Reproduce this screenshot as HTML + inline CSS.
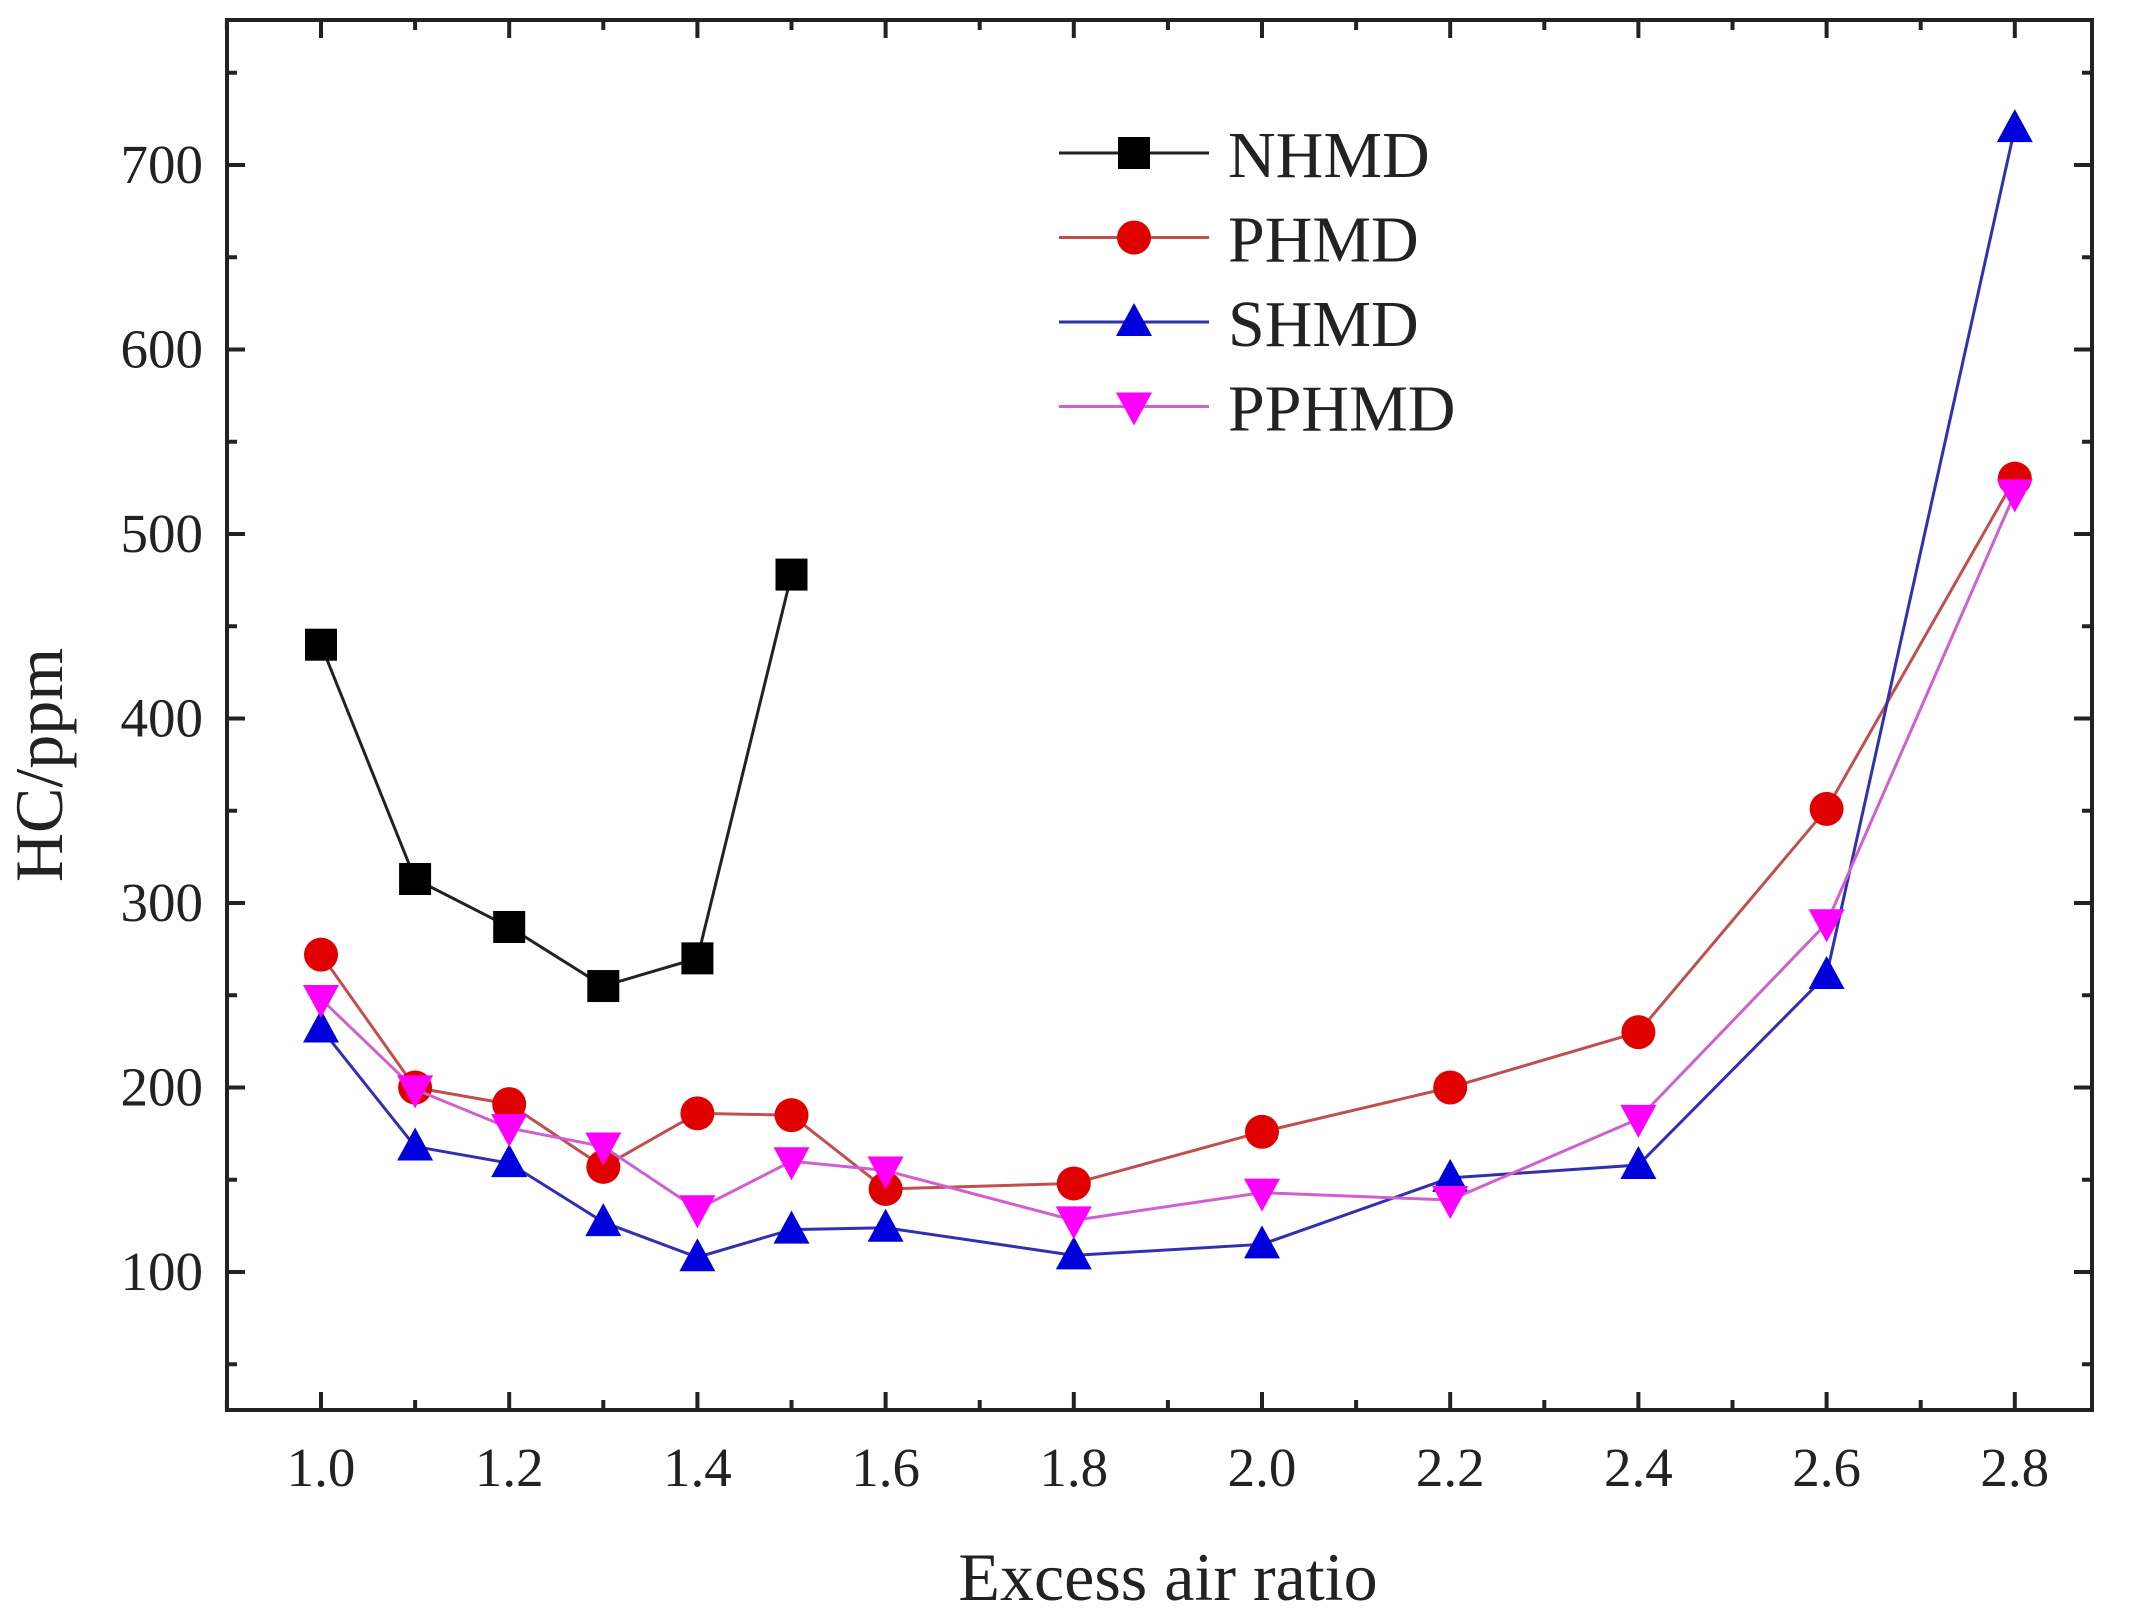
<!DOCTYPE html>
<html><head><meta charset="utf-8"><style>
body{margin:0;background:#fff}
svg{display:block;font-family:"Liberation Serif",serif}
</style></head><body>
<svg id="chart" width="2133" height="1617"></svg>
<script>
const xCats=[1.0,1.1,1.2,1.3,1.4,1.5,1.6,1.8,2.0,2.2,2.4,2.6,2.8];
const nhmdX=[1.0,1.1,1.2,1.3,1.4,1.5];
const nhmd=[440,313,287,255,270,478];
const phmd=[272,200,191,157,186,185,145,148,176,200,230,351,530];
const shmd=[232,168,159,127,108,123,124,109,115,151,158,261,720];
const pphmd=[248,199,178,168,134,160,155,128,143,139,183,289,522];
const xTicks=[1.0,1.2,1.4,1.6,1.8,2.0,2.2,2.4,2.6,2.8];
const yTicks=[100,200,300,400,500,600,700];

const L=227,R=2092,T=20,B=1410;
const xs=v=>321+(v-1.0)*941;
const ys=v=>1272-(v-100)*1.845;
const svg=document.getElementById('chart');
const NS='http://www.w3.org/2000/svg';
function el(t,a,p){const e=document.createElementNS(NS,t);for(const k in a)e.setAttribute(k,a[k]);(p||svg).appendChild(e);return e;}

const frame=el('rect',{x:L,y:T,width:R-L,height:B-T,fill:'none',stroke:'#222','stroke-width':4});



for(let v=0.9;v<=2.85;v+=0.1){const x=xs(v);const major=xTicks.some(t=>Math.abs(t-v)<1e-6);const len=major?18:10;
 el('line',{x1:x,x2:x,y1:B,y2:B-len,stroke:'#222','stroke-width':4});
 el('line',{x1:x,x2:x,y1:T,y2:T+len,stroke:'#222','stroke-width':4});}
xTicks.forEach(v=>{const t=el('text',{x:xs(v),y:1486,'text-anchor':'middle','font-size':55,fill:'#222'});t.textContent=v.toFixed(1);
 
 });
for(let v=50;v<=750;v+=50){const y=ys(v);const major=v%100===0;const len=major?18:10;
 el('line',{x1:L,x2:L+len,y1:y,y2:y,stroke:'#222','stroke-width':4});
 el('line',{x1:R,x2:R-len,y1:y,y2:y,stroke:'#222','stroke-width':4});}
yTicks.forEach(v=>{const t=el('text',{x:203,y:ys(v)+18,'text-anchor':'end','font-size':55,fill:'#222'});t.textContent=v;
 
 });

const xt=el('text',{x:1168,y:1600,'text-anchor':'middle','font-size':68,fill:'#222'});xt.textContent='Excess air ratio';


const yt=el('text',{x:0,y:0,'text-anchor':'middle','font-size':68,fill:'#222',transform:'translate(62,765) rotate(-90)'});yt.textContent='HC/ppm';



function marker(kind,x,y,fill,g){
 if(kind==='sq')return el('rect',{x:x-16,y:y-16,width:32,height:32,fill:fill},g);
 if(kind==='ci')return el('circle',{cx:x,cy:y,r:17,fill:fill},g);
 if(kind==='up')return el('polygon',{points:`${x},${y-19} ${x+18},${y+14} ${x-18},${y+14}`,fill:fill},g);
 return el('polygon',{points:`${x},${y+19} ${x+18},${y-14} ${x-18},${y-14}`,fill:fill},g);}
function series(name,xv,yv,line,fill,kind){
 const g=el('g',{});
 
 
 el('polyline',{points:xv.map((x,i)=>xs(x)+','+ys(yv[i])).join(' '),fill:'none',stroke:line,'stroke-width':3},g);
 xv.forEach((x,i)=>{const m=marker(kind,xs(x),ys(yv[i]),fill,g);
  
  });}
series('nhmd',nhmdX,nhmd,'#222','#000','sq');
series('phmd',xCats,phmd,'#c05050','#e00000','ci');
series('shmd',xCats,shmd,'#3030b0','#0000dd','up');
series('pphmd',xCats,pphmd,'#d060d0','#ff00ff','dn');

const leg=[['NHMD','#222','#000','sq'],['PHMD','#c05050','#e00000','ci'],['SHMD','#3030b0','#0000dd','up'],['PPHMD','#d060d0','#ff00ff','dn']];
leg.forEach((d,i)=>{const y=153+i*84.5;const g=el('g',{});
 
 
 el('line',{x1:1059,x2:1209,y1:y,y2:y,stroke:d[1],'stroke-width':3},g);
 marker(d[3],1134,y,d[2],g);
 const t=el('text',{x:1228,y:y+24,'font-size':66,fill:'#222'},g);t.textContent=d[0];});
</script>
</body></html>
